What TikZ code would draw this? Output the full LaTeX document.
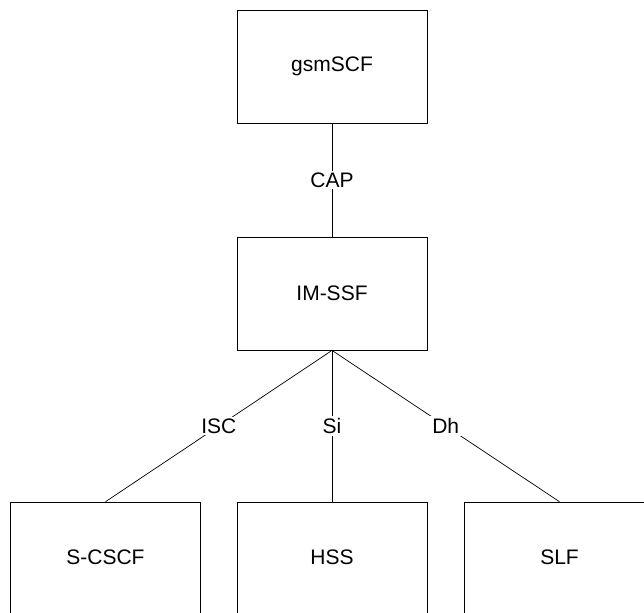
\documentclass[tikz,border=0pt]{standalone}
\usepackage{fontspec}
\setmainfont{Liberation Sans}
\begin{document}
\begin{tikzpicture}[x=1pt,y=-1pt,
  entity/.style={draw=black,line width=0.8pt,minimum width=190pt,minimum height=113pt,
    inner sep=0pt,font=\fontsize{21}{25}\selectfont},
  iface/.style={fill=white,inner sep=2pt,font=\fontsize{21}{25}\selectfont},
  link/.style={draw=black,line width=0.7pt}]
  \useasboundingbox (0,0) rectangle (644,612);
  \begin{scope}
    \clip (0,0) rectangle (644,612);
    % functional entities
    \node[entity] (scf) at (332,66.5) {gsmSCF};
    \node[entity] (ssf) at (332,293.5) {IM-SSF};
    \node[entity,anchor=north] (cscf) at (105.5,501.7) {};
    \node[entity,anchor=north] (hss) at (332,501.7) {};
    \node[entity,anchor=north] (slf) at (559.5,501.7) {};
    \node[font=\fontsize{21}{25}\selectfont] at (105.5,557) {S-CSCF};
    \node[font=\fontsize{21}{25}\selectfont] at (332,557) {HSS};
    \node[font=\fontsize{21}{25}\selectfont] at (559.5,557) {SLF};
    % reference points
    \draw[link] (scf.south) -- node[iface] {CAP} (ssf.north);
    \draw[link] (ssf.south) -- node[iface] {ISC} (cscf.north);
    \draw[link] (ssf.south) -- node[iface] {Si} (hss.north);
    \draw[link] (ssf.south) -- node[iface] {Dh} (slf.north);
  \end{scope}
\end{tikzpicture}
\end{document}
